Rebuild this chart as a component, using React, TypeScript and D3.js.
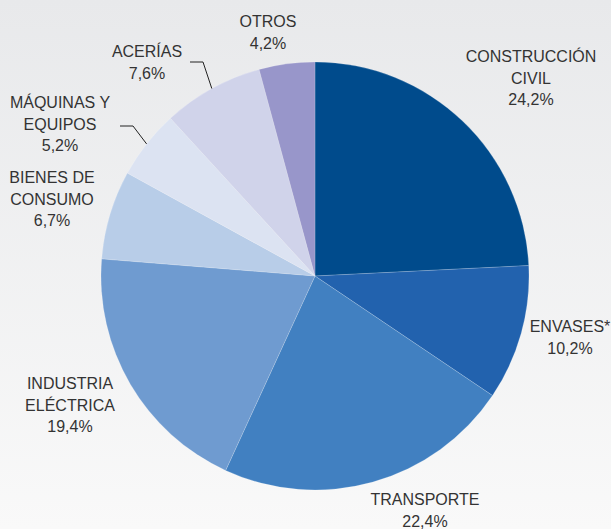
import React, { useRef, useEffect } from "react";
import * as d3 from "d3";

// sectors, clockwise from 12 o'clock
const sectors = [
  "CONSTRUCCIÓN|CIVIL",
  "ENVASES*",
  "TRANSPORTE",
  "INDUSTRIA|ELÉCTRICA",
  "BIENES DE|CONSUMO",
  "MÁQUINAS Y|EQUIPOS",
  "ACERÍAS",
  "OTROS",
];
const shares = [24.2, 10.2, 22.4, 19.4, 6.7, 5.2, 7.6, 4.2];
const shareLabels = ["24,2%", "10,2%", "22,4%", "19,4%", "6,7%", "5,2%", "7,6%", "4,2%"];
const colors = [
  "#004b8c",
  "#2262ae",
  "#4180c1",
  "#6f9bd0",
  "#b8cde8",
  "#dce3f2",
  "#d0d3ea",
  "#9896ca",
];

// label anchor (x, first line y) and optional leader elbow
const labelPos: [number, number][] = [
  [531, 62],
  [570, 332],
  [425, 505],
  [70, 389],
  [52, 183],
  [60, 108],
  [147, 57],
  [268, 27],
];
const leaders: ([number, number][] | null)[] = [
  null, null, null, null, null,
  [[133, 126], [120, 126]],
  [[203, 62], [190, 62]],
  null,
];

const App = () => {
  const svgRef = useRef<SVGSVGElement>(null);

  useEffect(() => {
    document.body.style.margin = "0";
    const width = 611;
    const height = 529;
    const cx = 315;
    const cy = 276;
    const r = 214;

    const svg = d3.select(svgRef.current);
    svg.selectAll("*").remove();
    svg.attr("width", width).attr("height", height);

    const grad = svg
      .append("defs")
      .append("linearGradient")
      .attr("id", "bg")
      .attr("x1", 0).attr("y1", 0).attr("x2", 0).attr("y2", 1);
    grad.append("stop").attr("offset", "0%").attr("stop-color", "#e8e9eb");
    grad.append("stop").attr("offset", "100%").attr("stop-color", "#f9f9f9");

    svg.append("rect").attr("width", width).attr("height", height).attr("fill", "url(#bg)");

    const pie = d3.pie<number>().sort(null).value((d) => d);
    const arcs = pie(shares);
    const arc = d3.arc<d3.PieArcDatum<number>>().innerRadius(0).outerRadius(r);

    const g = svg.append("g").attr("transform", `translate(${cx},${cy})`);
    g.selectAll("path")
      .data(arcs)
      .enter()
      .append("path")
      .attr("d", arc)
      .attr("fill", (d, i) => colors[i])
      .attr("stroke", "rgba(255,255,255,0.35)")
      .attr("stroke-width", 0.5);

    // leader lines for the small slices
    arcs.forEach((d, i) => {
      const pts = leaders[i];
      if (!pts) return;
      const mid = (d.startAngle + d.endAngle) / 2;
      const start: [number, number] = [cx + r * Math.sin(mid), cy - r * Math.cos(mid)];
      svg
        .append("polyline")
        .attr("points", [start, ...pts].map((p) => p.join(",")).join(" "))
        .attr("fill", "none")
        .attr("stroke", "#222")
        .attr("stroke-width", 1);
    });

    const labels = svg
      .append("g")
      .attr("font-family", "'Liberation Sans', Arial, sans-serif")
      .attr("font-size", 16)
      .attr("fill", "#333")
      .attr("text-anchor", "middle");

    sectors.forEach((name, i) => {
      const lines = [...name.split("|"), shareLabels[i]];
      const [x, y] = labelPos[i];
      const t = labels.append("text").attr("x", x).attr("y", y);
      lines.forEach((ln, j) => {
        t.append("tspan").attr("x", x).attr("dy", j === 0 ? 0 : 21.5).text(ln);
      });
    });
  }, []);

  return <svg ref={svgRef}></svg>;
};

export default App;
